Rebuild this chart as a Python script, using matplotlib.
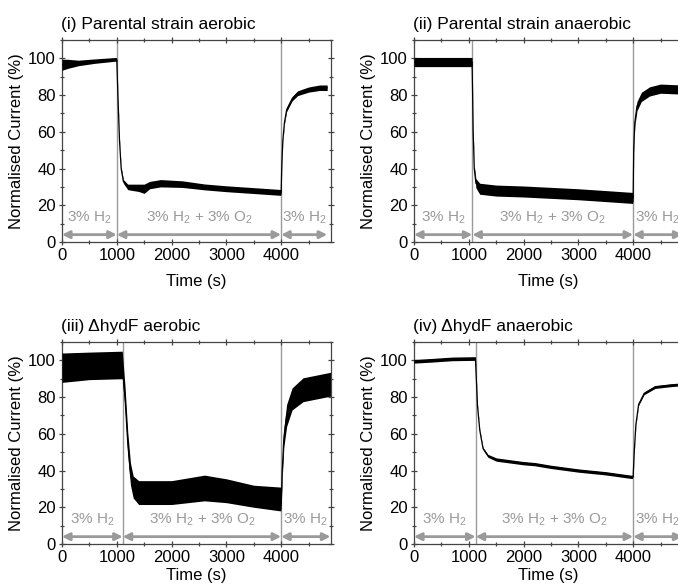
import matplotlib
matplotlib.use("Agg")
import matplotlib.pyplot as plt
from matplotlib.ticker import MultipleLocator

plt.rcParams['font.family'] = ['Liberation Sans', 'DejaVu Sans']
plt.rcParams['mathtext.fontset'] = 'custom'
plt.rcParams['mathtext.rm'] = 'Liberation Sans'
plt.rcParams['mathtext.it'] = 'Liberation Sans:italic'

# ---------------- data ----------------
titles = ["(i) Parental strain aerobic", "(ii) Parental strain anaerobic",
          "(iii) \u0394hydF aerobic", "(iv) \u0394hydF anaerobic"]

# (i) parental aerobic
t_1 = [0, 100, 300, 600, 990, 1000, 1020, 1050, 1080, 1120, 1200, 1400, 1500, 1600, 1800,
       2200, 2600, 3000, 3500, 3990, 4000, 4010, 4030, 4060, 4100, 4200, 4300, 4500, 4700, 4840]
mid_1 = [96.5, 97, 97.5, 98.5, 99.5, 99, 80, 55, 40, 33, 30, 29.5, 29, 31, 32,
         31.5, 30, 29, 28, 27, 27, 40, 55, 65, 72, 78, 81, 83, 84, 84]
hw_1 = [3, 2.5, 1.5, 1.2, 1, 0.8, 0.8, 0.8, 0.8, 1, 1.5, 2, 2.5, 2, 2,
        1.8, 1.6, 1.6, 1.6, 1.6, 0.8, 0.8, 0.8, 0.8, 1, 1.2, 1.3, 1.4, 1.5, 1.5]

# (ii) parental anaerobic
t_2 = [0, 500, 1060, 1070, 1080, 1100, 1130, 1200, 1500, 2000, 3000, 3500, 3990,
       4000, 4010, 4030, 4070, 4150, 4300, 4500, 4900]
mid_2 = [98, 98, 98, 80, 60, 40, 32, 29, 28, 27.5, 26, 25, 24,
         24, 50, 65, 74, 79, 82, 83.5, 83]
hw_2 = [2.5, 2.5, 2.5, 1, 1, 1.5, 2.5, 3, 3, 3, 3, 3, 3,
        1.5, 1.5, 2, 2.5, 2.5, 2.5, 2.5, 2.5]

# (iii) hydF aerobic
t_3 = [0, 500, 1100, 1150, 1200, 1250, 1300, 1400, 2000, 2600, 3000, 3500, 3990,
       4000, 4020, 4050, 4100, 4200, 4400, 4900]
mid_3 = [96, 97, 97.5, 80, 55, 38, 31, 28, 28, 30.5, 29, 26, 24.5,
         22, 40, 58, 70, 79, 84, 87]
hw_3 = [8, 7.5, 7.5, 6, 6, 6, 6, 6.5, 6.5, 7, 6.5, 6, 6.5,
        3, 4, 5, 6, 6, 6.5, 6.5]

# (iv) hydF anaerobic
t_4 = [0, 300, 700, 1120, 1130, 1160, 1200, 1260, 1350, 1500, 2000, 2200, 2500, 3000, 3500, 3980,
       4000, 4020, 4050, 4100, 4200, 4400, 4700, 4900]
mid_4 = [99.5, 100, 100.8, 101, 95, 75, 62, 52, 48, 46, 44, 43.5, 42, 40, 38.5, 36.5,
         37, 50, 65, 76, 82, 85.5, 86.5, 87]
hw_4 = [1, 1, 1, 1, 0.5, 0.5, 0.5, 0.6, 0.8, 0.9, 0.9, 0.9, 0.9, 0.9, 0.9, 0.9,
        0.5, 0.5, 0.5, 0.5, 0.7, 0.8, 0.8, 0.8]

series = [(t_1, mid_1, hw_1), (t_2, mid_2, hw_2), (t_3, mid_3, hw_3), (t_4, mid_4, hw_4)]

# gas switch times per panel
switch_on = [1000, 1065, 1108, 1125]
switch_off = [4000, 4000, 4000, 4000]
arrow_end = [4840, 4900, 4900, 4900]
phase_labels = ["3% H$_2$", "3% H$_2$ + 3% O$_2$", "3% H$_2$"]

x_ticks = [0, 1000, 2000, 3000, 4000]
y_ticks = [0, 20, 40, 60, 80, 100]

# ---------------- layout ----------------
W, H = 678, 586
fig = plt.figure(figsize=(W / 100, H / 100), dpi=100)
fig.patch.set_facecolor('white')

ax_w = 269 / W
ax_h = 202 / H
positions = [(62 / W, (H - 242) / H), (414 / W, (H - 242) / H),
             (62 / W, (H - 544) / H), (414 / W, (H - 544) / H)]

grey = '#9a9a9a'
spine_c = '#444444'

for k in range(4):
    x0, y0 = positions[k]
    ax = fig.add_axes([x0, y0, ax_w, ax_h])
    t, m, hw = series[k]
    lo = [a - b for a, b in zip(m, hw)]
    hi = [a + b for a, b in zip(m, hw)]
    ax.axvline(switch_on[k], color=grey, lw=1.0, zorder=1)
    ax.axvline(switch_off[k], color=grey, lw=1.0, zorder=1)
    ax.fill_between(t, lo, hi, color='black', lw=0, zorder=3)
    ax.plot(t, m, color='black', lw=0.9, zorder=3)

    # arrows
    segs = [(0, switch_on[k]), (switch_on[k], switch_off[k]), (switch_off[k], arrow_end[k])]
    for (a, b), lab in zip(segs, phase_labels):
        ax.annotate('', xy=(b, 4), xytext=(a, 4),
                    arrowprops=dict(arrowstyle='<|-|>', color=grey, lw=2.0,
                                    mutation_scale=11, shrinkA=0, shrinkB=0),
                    zorder=2)
        ax.text((a + b) / 2, 11, lab, color=grey, fontsize=11, ha='center',
                va='baseline', zorder=2)

    ax.set_xlim(0, 4910)
    ax.set_ylim(0, 110)
    ax.set_xticks(x_ticks)
    ax.set_yticks(y_ticks)
    ax.xaxis.set_minor_locator(MultipleLocator(500))
    ax.yaxis.set_minor_locator(MultipleLocator(10))
    ax.tick_params(which='both', direction='inout', top=True, right=True,
                   color=spine_c, labelsize=12, width=0.9)
    ax.tick_params(which='major', length=5)
    ax.tick_params(which='minor', length=3)
    ax.tick_params(axis='x', pad=2)
    ax.tick_params(axis='y', pad=2)
    for s in ax.spines.values():
        s.set_color(spine_c)
        s.set_linewidth(0.9)
    ax.set_ylabel('Normalised Current (%)', fontsize=12, labelpad=3)
    ax.set_xlabel('Time (s)', fontsize=12, labelpad=8 if k < 2 else 2)
    ax.annotate(titles[k], xy=(0, 1), xycoords='axes fraction',
                xytext=(-1, 8), textcoords='offset points',
                fontsize=12.5, ha='left', va='baseline', annotation_clip=False)

fig.savefig('out.png', dpi=100)
